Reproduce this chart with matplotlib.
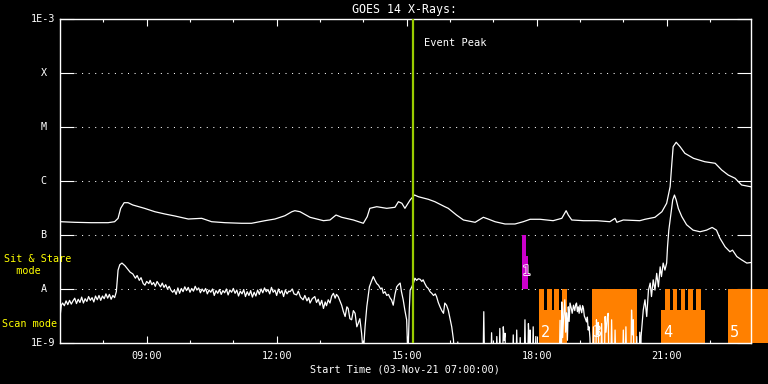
import numpy as np
import matplotlib
matplotlib.use("Agg")
import matplotlib.pyplot as plt
import matplotlib.patheffects as pe

# long channel (1-8 A): hours UT, log10 flux (W/m^2)
long_t = [7.02, 7.34, 7.72, 8.11, 8.26, 8.34, 8.40, 8.48, 8.57, 8.68, 8.95, 9.19, 9.42, 9.65,
          9.96, 10.27, 10.50, 10.81, 11.19, 11.42, 11.73, 11.96, 12.19, 12.35, 12.42, 12.54,
          12.77, 13.08, 13.23, 13.37, 13.50, 13.77, 14.00, 14.09, 14.15, 14.31, 14.54, 14.73,
          14.81, 14.89, 14.96, 15.08, 15.18, 15.27, 15.50, 15.65, 15.88, 15.96, 16.15, 16.31,
          16.58, 16.77, 16.88, 17.04, 17.27, 17.50, 17.69, 17.85, 18.08, 18.38, 18.58, 18.68,
          18.73, 18.81, 19.08, 19.39, 19.69, 19.81, 19.85, 20.00, 20.38, 20.50, 20.73, 20.89,
          21.00, 21.08, 21.12, 21.15, 21.22, 21.31, 21.42, 21.62, 21.88, 22.12, 22.27, 22.42,
          22.58, 22.73, 22.94]
long_logf = [-6.754, -6.765, -6.772, -6.772, -6.754, -6.691, -6.506, -6.402, -6.402, -6.444,
             -6.506, -6.569, -6.611, -6.648, -6.704, -6.691, -6.754, -6.772, -6.783, -6.783,
             -6.735, -6.704, -6.643, -6.569, -6.550, -6.569, -6.672, -6.735, -6.722, -6.630,
             -6.672, -6.722, -6.783, -6.661, -6.506, -6.476, -6.506, -6.487, -6.383, -6.413,
             -6.506, -6.352, -6.259, -6.291, -6.339, -6.383, -6.476, -6.506, -6.630, -6.722,
             -6.765, -6.672, -6.704, -6.754, -6.796, -6.796, -6.754, -6.709, -6.709, -6.735,
             -6.691, -6.550, -6.630, -6.722, -6.735, -6.735, -6.754, -6.691, -6.765, -6.722,
             -6.735, -6.709, -6.672, -6.569, -6.413, -6.106, -5.672, -5.365, -5.283, -5.365,
             -5.487, -5.580, -5.643, -5.672, -5.796, -5.889, -5.950, -6.074, -6.106]

# short channel (0.5-4 A): hours UT, log10 flux
short_t = [7.00, 7.03, 7.06, 7.10, 7.14, 7.18, 7.22, 7.26, 7.30, 7.34, 7.38, 7.42, 7.46, 7.50,
           7.54, 7.58, 7.62, 7.66, 7.70, 7.74, 7.78, 7.82, 7.86, 7.90, 7.94, 7.98, 8.02, 8.06,
           8.10, 8.14, 8.18, 8.22, 8.26, 8.30, 8.34, 8.38, 8.43, 8.50, 8.56, 8.62, 8.68, 8.74,
           8.78, 8.83, 8.87, 8.92, 8.96, 9.00, 9.05, 9.08, 9.12, 9.16, 9.20, 9.24, 9.28, 9.32,
           9.36, 9.40, 9.44, 9.48, 9.52, 9.56, 9.60,
           9.64, 9.68, 9.72, 9.76, 9.80, 9.84, 9.88, 9.92, 9.96, 10.00, 10.04, 10.08, 10.12,
           10.16, 10.20, 10.24, 10.28, 10.32, 10.36, 10.40, 10.44, 10.48, 10.52, 10.56, 10.60,
           10.64, 10.68, 10.72, 10.76, 10.80, 10.84, 10.88, 10.92, 10.96, 11.00, 11.04, 11.08,
           11.12, 11.16, 11.20, 11.24, 11.28, 11.32, 11.36, 11.40, 11.44, 11.48, 11.52, 11.56,
           11.60, 11.64, 11.68, 11.72, 11.76, 11.80, 11.84, 11.88, 11.92, 11.96, 12.00, 12.04,
           12.08, 12.12, 12.16, 12.20, 12.24, 12.28,
           12.31, 12.36, 12.40, 12.46, 12.50, 12.55, 12.61, 12.65, 12.70, 12.74, 12.77, 12.82,
           12.88, 12.92, 12.96, 13.00, 13.04, 13.08, 13.12, 13.15, 13.19, 13.23, 13.27, 13.31,
           13.35, 13.38, 13.42, 13.46, 13.50, 13.54, 13.58, 13.62, 13.65, 13.69, 13.73, 13.77,
           13.81, 13.85, 13.88, 13.92, 13.96, 14.00, 14.04, 14.08, 14.14, 14.19, 14.23, 14.27,
           14.31, 14.35, 14.40, 14.43, 14.46, 14.50, 14.54, 14.58, 14.62, 14.65, 14.69, 14.73,
           14.77, 14.81, 14.85, 14.88, 14.92, 14.96, 15.00, 15.03, 15.06, 15.08, 15.12, 15.16,
           15.19, 15.23, 15.27, 15.31, 15.35, 15.38, 15.42, 15.46, 15.50, 15.54, 15.58, 15.62,
           15.66, 15.69, 15.73, 15.77, 15.81, 15.85, 15.88, 15.92, 15.96, 16.00, 16.04, 16.08,
           16.12, 16.16, 16.18, 16.20, 16.76, 16.78, 16.80, 16.94, 16.96, 16.98, 17.06, 17.08,
           17.11, 17.13, 17.15, 17.17, 17.21, 17.23, 17.25, 17.27, 17.29, 17.44, 17.46, 17.48,
           17.52, 17.54, 17.56, 17.60, 17.62, 17.64, 17.71, 17.73, 17.75, 17.79, 17.81, 17.83,
           17.85, 17.87, 17.90, 17.92, 17.94, 17.96, 17.98, 18.00, 18.52, 18.54, 18.56, 18.57,
           18.58, 18.60, 18.62, 18.65, 18.67, 18.69, 18.71, 18.73, 18.75, 18.77, 18.80, 18.82,
           18.85, 18.88, 18.90, 18.92, 18.94, 18.96, 18.98, 19.00, 19.02, 19.04, 19.06, 19.08,
           19.10, 19.12, 19.15, 19.17, 19.19, 19.21, 19.23, 19.25, 19.29, 19.31, 19.33, 19.36,
           19.38, 19.40, 19.42, 19.44, 19.48, 19.50, 19.52, 19.56, 19.58, 19.60, 19.63, 19.65,
           19.67, 19.71, 19.73, 19.75, 19.79, 19.81, 19.83, 19.98, 20.00, 20.02, 20.04, 20.06,
           20.08, 20.17, 20.19, 20.21, 20.23, 20.25, 20.29, 20.31, 20.33, 20.36, 20.38, 20.40,
           20.41, 20.46, 20.50, 20.54, 20.58, 20.62, 20.65, 20.69, 20.73, 20.77, 20.81, 20.85,
           20.88, 20.92, 20.96, 21.00, 21.02, 21.05, 21.10, 21.14, 21.18, 21.22, 21.27, 21.35,
           21.46, 21.61, 21.77, 21.92, 22.05, 22.15, 22.23, 22.35, 22.46, 22.52, 22.62, 22.73,
           22.85, 22.94]
short_logf = [-8.52, -8.30, -8.26, -8.31, -8.22, -8.29, -8.21, -8.28, -8.22, -8.17, -8.27, -8.19,
              -8.25, -8.15, -8.26, -8.18, -8.23, -8.14, -8.21, -8.16, -8.24, -8.13, -8.20, -8.12,
              -8.21, -8.13, -8.18, -8.09, -8.17, -8.10, -8.19, -8.12, -8.16, -8.05, -7.65, -7.55,
              -7.52, -7.57, -7.63, -7.69, -7.72, -7.80, -7.75, -7.84, -7.79, -7.90, -7.93, -7.86,
              -7.90, -7.84, -7.92, -7.88, -7.95, -7.86, -7.91, -7.96, -7.89, -7.97, -7.92, -8.00,
              -7.95, -8.02, -8.06,
              -8.02, -8.10, -7.98, -8.08, -7.99, -8.05, -7.96, -8.03, -7.97, -8.06, -7.99, -8.04,
              -7.95, -8.02, -7.98, -8.07, -8.00, -8.05, -7.99, -8.09, -8.02, -8.06, -8.00, -8.12,
              -8.03, -8.08, -8.01, -8.10, -8.03, -8.07, -8.00, -8.11, -8.02, -8.06, -7.99, -8.08,
              -8.02, -8.13, -8.04, -8.09, -8.01, -8.14, -8.05, -8.12, -8.03, -8.15, -8.06, -8.13,
              -8.02, -8.10, -8.00, -8.07, -7.98, -8.05, -8.01, -8.09, -7.97, -8.06, -8.02, -8.12,
              -8.00, -8.08, -8.03, -8.14, -8.02, -8.09, -8.04,
              -8.05, -8.00, -8.09, -8.11, -8.04, -8.15, -8.20, -8.12, -8.22, -8.16, -8.26, -8.18,
              -8.14, -8.25, -8.19, -8.30, -8.21, -8.36, -8.24, -8.31, -8.20, -8.26, -8.13, -8.08,
              -8.17, -8.10, -8.14, -8.22, -8.30, -8.42, -8.51, -8.33, -8.36, -8.55, -8.57, -8.40,
              -8.45, -8.70, -8.64, -8.55, -8.82, -9.20, -8.70, -8.33, -7.96, -7.85, -7.77, -7.84,
              -7.90, -7.93, -8.00, -7.98, -8.08, -8.05, -8.12, -8.10, -8.17, -8.20, -8.30, -8.10,
              -7.96, -7.92, -7.89, -8.05, -8.20, -8.40, -8.57, -9.30, -8.40, -8.02, -7.96, -7.88,
              -7.80, -7.84, -7.81, -7.82, -7.86, -7.83, -7.90, -7.96, -7.99, -8.05, -8.08, -8.12,
              -8.09, -8.14, -8.25, -8.33, -8.40, -8.45, -8.26, -8.30, -8.39, -8.55, -8.70, -8.94,
              -9.50, -9.50, -8.98, -9.50, -9.50, -8.42, -9.50, -9.50, -8.81, -9.50, -9.50, -8.88,
              -9.50, -9.50, -8.73, -9.50, -9.50, -8.70, -8.95, -8.82, -9.50, -9.50, -8.85, -9.50,
              -9.50, -8.76, -9.50, -9.50, -8.90, -9.50, -9.50, -8.57, -9.50, -9.50, -8.64, -9.00,
              -8.76, -9.50, -9.50, -8.70, -9.50, -9.50, -8.88, -9.50, -9.50, -8.58, -9.50, -9.50,
              -8.24, -8.90, -8.55, -8.20, -8.80, -8.44, -8.95, -8.33, -8.60, -8.26, -8.36, -8.45,
              -8.30, -8.40, -8.29, -8.26, -8.42, -8.33, -8.45, -8.30, -8.38, -8.44, -8.31, -8.36,
              -8.50, -8.54, -8.61, -8.52, -8.76, -8.70, -8.91, -9.50, -9.50, -8.70, -9.50, -9.50,
              -8.57, -8.85, -8.62, -9.50, -9.50, -8.64, -9.50, -9.50, -8.51, -8.80, -8.52, -8.45,
              -9.50, -9.50, -8.57, -9.50, -9.50, -8.76, -9.50, -9.50, -8.76, -9.50, -9.50, -8.70,
              -9.50, -9.50, -8.39, -8.85, -8.57, -9.50, -9.50, -8.88, -9.50, -9.50, -8.80, -9.50,
              -8.88, -8.39, -8.20, -8.51, -8.02, -7.89, -8.14, -7.83, -8.02, -7.71, -7.96, -7.59,
              -7.77, -7.52, -7.65, -7.52, -7.22, -6.91, -6.60, -6.35, -6.26, -6.35, -6.51, -6.66,
              -6.81, -6.91, -6.94, -6.91, -6.86, -6.91, -7.06, -7.22, -7.31, -7.28, -7.40, -7.46,
              -7.52, -7.51]

# scan mode blocks (orange): comb teeth reach the A level, base blocks lower
tooth_start = [18.05, 18.23, 18.41, 18.58, 19.27, 20.96, 21.14, 21.32, 21.49, 21.68, 22.41]
tooth_end = [18.17, 18.35, 18.52, 18.69, 20.31, 21.08, 21.25, 21.43, 21.61, 21.79, 23.40]
base_start = [18.05, 20.87]
base_end = [18.69, 21.88]
base_logtop = -8.39
scan_label_t = [18.05, 19.27, 20.87, 22.41]
scan_labels = ["2", "3", "4", "5"]

# sit & stare block (magenta)
stare_start = [17.66, 17.66]
stare_end = [17.75, 17.80]
stare_logtop = [-7.0, -7.39]

event_peak = 15.15
x_min, x_max = 7.0, 22.935

ytick_vals = [-9, -8, -7, -6, -5, -4, -3]
ytick_labels = ["1E-9", "A", "B", "C", "M", "X", "1E-3"]
xtick_major = [9, 12, 15, 18, 21]

FONT = "DejaVu Sans Mono"
fig = plt.figure(figsize=(7.68, 3.84), dpi=100, facecolor="black")
ax = fig.add_axes([60 / 768, 41 / 384, 690.5 / 768, 324 / 384], facecolor="black")
ax.set_yscale("log")
ax.set_xlim(x_min, x_max)
ax.set_ylim(1e-9, 1e-3)

for s in ax.spines.values():
    s.set_color("white")
    s.set_linewidth(1.0)

# dotted level lines
for v in ytick_vals[1:-1]:
    ax.plot([0.0217, 0.9805], [10.0 ** v, 10.0 ** v], color="white", lw=0.75,
            dashes=(1, 5.3), transform=ax.get_yaxis_transform(), zorder=1)

# orange scan blocks
for a, b in zip(tooth_start, tooth_end):
    ax.bar(a, 1e-8 - 1e-9, width=b - a, bottom=1e-9, align="edge", color="#ff8000",
           lw=0, clip_on=False, zorder=2)
for a, b in zip(base_start, base_end):
    ax.bar(a, 10 ** base_logtop - 1e-9, width=b - a, bottom=1e-9, align="edge",
           color="#ff8000", lw=0, zorder=2)
for t, lab in zip(scan_label_t, scan_labels):
    ax.text(t + 0.04, 10 ** -8.81, lab, color="white", fontsize=11, family=FONT,
            ha="left", va="center", zorder=5)

# magenta sit & stare block
for a, b, top in zip(stare_start, stare_end, stare_logtop):
    ax.bar(a, 10 ** top - 1e-8, width=b - a, bottom=1e-8, align="edge",
           color="#cc00cc", lw=0, zorder=2)
ax.text(17.67, 10 ** -7.67, "1", color="#cc00cc", fontsize=10, family=FONT,
        ha="left", va="center", zorder=5,
        path_effects=[pe.withStroke(linewidth=1.2, foreground="white")])

ax.plot(long_t, 10.0 ** np.array(long_logf), color="white", lw=0.9, zorder=3)
ax.plot(short_t, 10.0 ** np.array(short_logf), color="white", lw=0.9, zorder=3)

ax.axvline(event_peak, color="#99cc00", lw=1.6, zorder=4)
ax.text(event_peak + 0.25, 10 ** -3.44, "Event Peak", color="white", fontsize=7.5,
        family=FONT, ha="left", va="center")

# ticks
ax.set_yticks([10.0 ** v for v in ytick_vals])
ax.set_yticks([], minor=True)
ax.tick_params(axis="y", which="major", direction="in", length=10, width=0.8,
               color="white", left=True, right=True, labelleft=False)
ax.set_xticks(xtick_major)
ax.set_xticks(np.arange(8, 23), minor=True)
ax.set_xticklabels(["%02d:00" % h for h in xtick_major])
ax.tick_params(axis="x", which="major", direction="in", length=5, width=0.8,
               color="white", top=True, bottom=True, labelcolor="white", labelsize=7.3,
               pad=5.5)
ax.tick_params(axis="x", which="minor", direction="in", length=2.5, width=0.8,
               color="white", top=True, bottom=True)
for lab in ax.get_xticklabels():
    lab.set_family(FONT)

for v, lab in zip(ytick_vals, ytick_labels):
    ax.text(-0.0239, 10.0 ** v, lab, color="white", fontsize=7.3, family=FONT,
            ha="center", va="center", transform=ax.get_yaxis_transform())

fig.text(4 / 768, 1 - 265 / 384, "Sit & Stare\n  mode", color="yellow", fontsize=7.3,
         family=FONT, ha="left", va="center", linespacing=1.15)
fig.text(2 / 768, 1 - 324 / 384, "Scan mode", color="yellow", fontsize=7.3,
         family=FONT, ha="left", va="center")

fig.text(405 / 768, 1 - 9.5 / 384, "GOES 14 X-Rays:", color="white", fontsize=8.4,
         family=FONT, ha="center", va="center")
fig.text(405 / 768, 1 - 370 / 384, "Start Time (03-Nov-21 07:00:00)", color="white",
         fontsize=7.3, family=FONT, ha="center", va="center")

fig.savefig("out.png", dpi=100, facecolor="black")
